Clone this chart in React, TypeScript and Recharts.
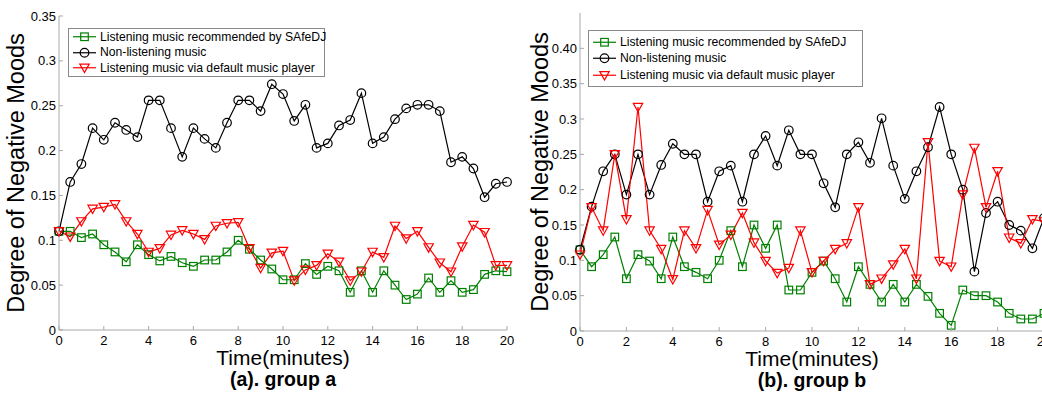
import React from 'react';
import { LineChart, Line, XAxis, YAxis, Legend } from 'recharts';

// time axis (minutes), sampled every half minute
const minutes = [
  0, 0.5, 1, 1.5, 2, 2.5, 3, 3.5, 4, 4.5, 5, 5.5, 6, 6.5, 7, 7.5, 8, 8.5, 9, 9.5, 10,
  10.5, 11, 11.5, 12, 12.5, 13, 13.5, 14, 14.5, 15, 15.5, 16, 16.5, 17, 17.5, 18, 18.5, 19, 19.5, 20,
];

const xTicks = [0, 2, 4, 6, 8, 10, 12, 14, 16, 18, 20];

// group a
const safedjA = [
  0.110, 0.110, 0.103, 0.107, 0.095, 0.087, 0.076, 0.095, 0.084, 0.077, 0.082, 0.075, 0.071, 0.078,
  0.078, 0.087, 0.100, 0.090, 0.078, 0.068, 0.056, 0.056, 0.074, 0.062, 0.071, 0.066, 0.042, 0.066,
  0.042, 0.066, 0.050, 0.034, 0.040, 0.058, 0.042, 0.055, 0.042, 0.045, 0.062, 0.066, 0.065,
];
const nonListeningA = [
  0.110, 0.165, 0.185, 0.225, 0.212, 0.231, 0.223, 0.215, 0.256, 0.256, 0.225, 0.193, 0.225, 0.213,
  0.203, 0.231, 0.256, 0.256, 0.244, 0.274, 0.263, 0.233, 0.251, 0.203, 0.208, 0.228, 0.234, 0.264,
  0.208, 0.215, 0.235, 0.247, 0.251, 0.251, 0.244, 0.187, 0.193, 0.180, 0.148, 0.163, 0.165,
];
const defaultA = [
  0.110, 0.104, 0.121, 0.135, 0.137, 0.140, 0.121, 0.107, 0.087, 0.091, 0.106, 0.111, 0.107, 0.101,
  0.116, 0.119, 0.120, 0.091, 0.069, 0.086, 0.088, 0.055, 0.067, 0.072, 0.085, 0.076, 0.055, 0.065,
  0.087, 0.081, 0.116, 0.102, 0.110, 0.092, 0.075, 0.065, 0.093, 0.117, 0.109, 0.072, 0.072,
];
const yTicksA = [0, 0.05, 0.1, 0.15, 0.2, 0.25, 0.3, 0.35];
const yLabelsA = ['0', '0.05', '0.1', '0.15', '0.2', '0.25', '0.3', '0.35'];

// group b
const safedjB = [
  0.115, 0.091, 0.108, 0.133, 0.074, 0.108, 0.099, 0.074, 0.133, 0.091, 0.083, 0.074, 0.100, 0.142,
  0.091, 0.150, 0.117, 0.150, 0.058, 0.058, 0.083, 0.099, 0.074, 0.041, 0.091, 0.066, 0.041, 0.066,
  0.041, 0.066, 0.049, 0.025, 0.008, 0.058, 0.050, 0.050, 0.041, 0.025, 0.017, 0.017, 0.025,
];
const nonListeningB = [
  0.115, 0.176, 0.226, 0.250, 0.193, 0.250, 0.193, 0.235, 0.265, 0.250, 0.250, 0.183, 0.226, 0.234,
  0.183, 0.250, 0.276, 0.234, 0.284, 0.250, 0.250, 0.209, 0.175, 0.250, 0.267, 0.238, 0.301, 0.234,
  0.187, 0.226, 0.260, 0.317, 0.250, 0.200, 0.084, 0.167, 0.183, 0.150, 0.142, 0.117, 0.160,
];
const defaultB = [
  0.108, 0.175, 0.142, 0.250, 0.158, 0.317, 0.142, 0.116, 0.073, 0.142, 0.117, 0.171, 0.122, 0.136,
  0.167, 0.125, 0.099, 0.082, 0.089, 0.142, 0.083, 0.099, 0.116, 0.124, 0.175, 0.066, 0.074, 0.094,
  0.116, 0.074, 0.267, 0.099, 0.091, 0.193, 0.259, 0.175, 0.226, 0.132, 0.124, 0.158, 0.155,
];
const yTicksB = [0, 0.05, 0.1, 0.15, 0.2, 0.25, 0.3, 0.35, 0.4];
const yLabelsB = ['0', '0.05', '0.1', '0.15', '0.2', '0.25', '0.3', '0.35', '0.40'];

const seriesNames = [
  'Listening music recommended by SAfeDJ',
  'Non-listening music',
  'Listening music via default music player',
];

const GREEN = '#008000';
const RED = '#ff0000';
const BLACK = '#000000';
const AXIS = '#a8a8a8';
const FONT = '"Liberation Sans", Arial, sans-serif';
const TICK = 4;

const buildRows = (g: number[], k: number[], r: number[]) =>
  minutes.map((t, i) => ({ t, safedj: g[i], none: k[i], player: r[i] }));

// markers, unfilled like matlab
const Marker = ({ kind, cx, cy, color }: { kind: string; cx: number; cy: number; color: string }) => {
  if (kind === 'square')
    return <rect x={cx - 3.8} y={cy - 3.8} width={7.6} height={7.6} fill="none" stroke={color} strokeWidth={1.2} />;
  if (kind === 'circle')
    return <circle cx={cx} cy={cy} r={4.3} fill="none" stroke={color} strokeWidth={1.2} />;
  return (
    <polygon
      points={`${cx - 4.7},${cy - 3.7} ${cx + 4.7},${cy - 3.7} ${cx},${cy + 4.7}`}
      fill="none"
      stroke={color}
      strokeWidth={1.2}
    />
  );
};

const series = [
  { key: 'safedj', color: GREEN, kind: 'square' },
  { key: 'none', color: BLACK, kind: 'circle' },
  { key: 'player', color: RED, kind: 'triangle' },
];

interface PanelProps {
  rows: any[];
  yTicks: number[];
  yLabels: string[];
  yMax: number;
  left: number;
  width: number;
  margin: { top: number; right: number; bottom: number };
  legendBox: { left: number; top: number; width: number; row: number; pad: number; sampleLeft: number };
  caption: string;
  ylabelX: number;
}

function Panel(p: PanelProps) {
  const height = 393;
  const plotBottom = height - p.margin.bottom;
  const plotLeft = 60;

  const bottomTick = (props: any) => (
    <g>
      <line x1={props.x} x2={props.x} y1={plotBottom} y2={plotBottom - TICK} stroke={AXIS} />
      <text x={props.x} y={plotBottom + 15} textAnchor="middle" fontSize={13} fontFamily={FONT} fill="#000">
        {props.payload.value}
      </text>
    </g>
  );
  const leftTick = (props: any) => (
    <g>
      <line x1={plotLeft} x2={plotLeft + TICK} y1={props.y} y2={props.y} stroke={AXIS} />
      <text x={plotLeft - 3} y={props.y + 4.5} textAnchor="end" fontSize={13} fontFamily={FONT} fill="#000">
        {p.yLabels[p.yTicks.indexOf(props.payload.value)]}
      </text>
    </g>
  );
  const topTick = (props: any) => (
    <line x1={props.x} x2={props.x} y1={props.y} y2={props.y + TICK} stroke={AXIS} />
  );
  const rightTick = (props: any) => (
    <line x1={props.x - TICK} x2={props.x} y1={props.y} y2={props.y} stroke={AXIS} />
  );

  const lb = p.legendBox;
  const legendContent = () => (
    <div
      style={{
        width: lb.width,
        border: '1px solid #8a8a8a',
        background: '#fff',
        padding: `${lb.pad}px 0`,
        boxSizing: 'border-box',
        fontFamily: FONT,
        fontSize: 12.2,
      }}
    >
      {series.map((s, i) => (
        <div key={s.key} style={{ height: lb.row, display: 'flex', alignItems: 'center' }}>
          <svg width={lb.sampleLeft + 27} height={lb.row} style={{ flex: 'none' }}>
            <line x1={lb.sampleLeft} x2={lb.sampleLeft + 23} y1={lb.row / 2} y2={lb.row / 2} stroke={s.color} strokeWidth={1.2} />
            <Marker kind={s.kind} cx={lb.sampleLeft + 11.5} cy={lb.row / 2} color={s.color} />
          </svg>
          <span style={{ whiteSpace: 'nowrap', color: '#000' }}>{seriesNames[i]}</span>
        </div>
      ))}
    </div>
  );

  return (
    <div style={{ position: 'absolute', left: p.left, top: 0 }}>
      <LineChart
        width={p.width}
        height={height}
        data={p.rows}
        margin={{ top: p.margin.top, right: p.margin.right, bottom: 0, left: 0 }}
      >
        <XAxis
          dataKey="t"
          type="number"
          domain={[0, 20]}
          ticks={xTicks}
          height={p.margin.bottom}
          tickSize={0}
          tickLine={false}
          axisLine={{ stroke: AXIS }}
          tick={bottomTick}
          label={(lp: any) => {
            const vb = lp.viewBox;
            const cx = vb.x + vb.width / 2;
            return (
              <g>
                <text x={cx} y={plotBottom + 35} textAnchor="middle" fontSize={21} fontFamily={FONT} fill="#000">
                  Time(minutes)
                </text>
                <text x={cx} y={plotBottom + 56} textAnchor="middle" fontSize={19.5} fontWeight="bold" fontFamily={FONT} fill="#000">
                  {p.caption}
                </text>
              </g>
            );
          }}
        />
        <XAxis
          xAxisId="top"
          orientation="top"
          type="number"
          domain={[0, 20]}
          ticks={xTicks}
          height={0}
          tickSize={0}
          tickLine={false}
          axisLine={{ stroke: AXIS }}
          tick={topTick}
          allowDataOverflow
        />
        <YAxis
          type="number"
          domain={[0, p.yMax]}
          ticks={p.yTicks}
          width={plotLeft}
          tickSize={0}
          tickLine={false}
          axisLine={{ stroke: AXIS }}
          tick={leftTick}
          allowDataOverflow
          label={(lp: any) => {
            const vb = lp.viewBox;
            const cy = vb.y + vb.height / 2;
            return (
              <text
                x={p.ylabelX}
                y={cy}
                transform={`rotate(-90 ${p.ylabelX} ${cy})`}
                textAnchor="middle"
                dominantBaseline="central"
                fontSize={23.5}
                fontFamily={FONT}
                fill="#000"
              >
                Degree of Negative Moods
              </text>
            );
          }}
        />
        <YAxis
          yAxisId="right"
          orientation="right"
          type="number"
          domain={[0, p.yMax]}
          ticks={p.yTicks}
          width={0}
          tickSize={0}
          tickLine={false}
          axisLine={{ stroke: AXIS }}
          tick={rightTick}
          allowDataOverflow
        />
        {series.map((s, i) => (
          <Line
            key={s.key}
            type="linear"
            dataKey={s.key}
            name={seriesNames[i]}
            stroke={s.color}
            strokeWidth={1.2}
            isAnimationActive={false}
            dot={(dp: any) => <Marker key={`${s.key}-${dp.index}`} kind={s.kind} cx={dp.cx} cy={dp.cy} color={s.color} />}
            activeDot={false}
          />
        ))}
        <Legend
          layout="vertical"
          align="center"
          verticalAlign="middle"
          content={legendContent}
          wrapperStyle={{ left: lb.left, top: lb.top, width: lb.width, height: 'auto' }}
        />
      </LineChart>
    </div>
  );
}

export default function App() {
  return (
    <div style={{ position: 'absolute', left: 0, top: 0, width: 1042, height: 393, overflow: 'hidden', background: '#fff' }}>
      <Panel
        rows={buildRows(safedjA, nonListeningA, defaultA)}
        yTicks={yTicksA}
        yLabels={yLabelsA}
        yMax={0.35}
        left={-1}
        width={521}
        margin={{ top: 16, right: 13, bottom: 63 }}
        legendBox={{ left: 69, top: 28, width: 257, row: 15.5, pad: 0, sampleLeft: 4 }}
        caption="(a). group a"
        ylabelX={17}
      />
      <Panel
        rows={buildRows(safedjB, nonListeningB, defaultB)}
        yTicks={yTicksB}
        yLabels={yLabelsB}
        yMax={0.45}
        left={520}
        width={537}
        margin={{ top: 13, right: 13, bottom: 62 }}
        legendBox={{ left: 68, top: 30, width: 275, row: 16.5, pad: 2.5, sampleLeft: 4 }}
        caption="(b). group b"
        ylabelX={20}
      />
    </div>
  );
}
